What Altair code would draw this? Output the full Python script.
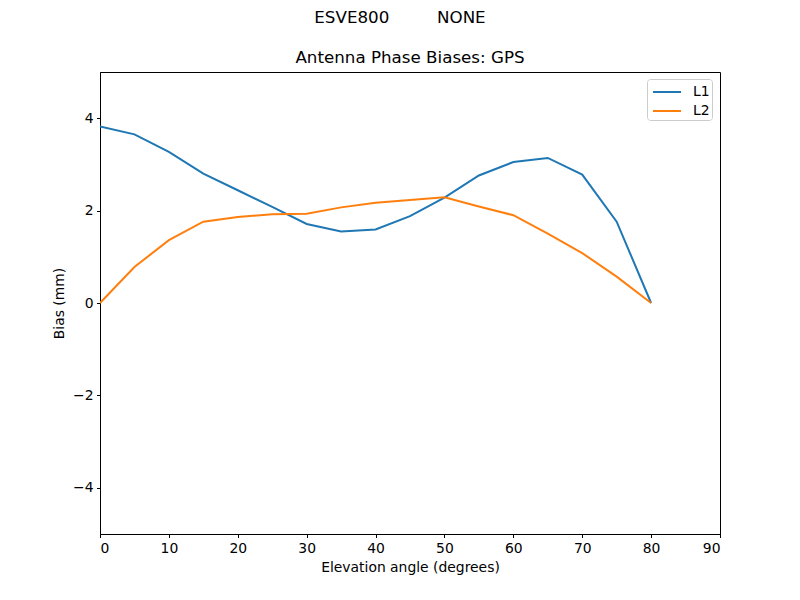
import altair as alt
import pandas as pd

elevation = [0, 5, 10, 15, 20, 25, 30, 35, 40, 45, 50, 55, 60, 65, 70, 75, 80]
l1_bias = [3.82, 3.65, 3.27, 2.80, 2.44, 2.08, 1.71, 1.55, 1.59, 1.88, 2.28, 2.76, 3.05, 3.14, 2.78, 1.76, 0.0]
l2_bias = [0.0, 0.78, 1.36, 1.76, 1.86, 1.92, 1.93, 2.07, 2.17, 2.23, 2.29, 2.09, 1.90, 1.50, 1.08, 0.57, 0.0]
series_names = ["L1", "L2"]
series_colors = ["#1f77b4", "#ff7f0e"]
x_ticks = [0, 10, 20, 30, 40, 50, 60, 70, 80, 90]
y_ticks = [-4, -2, 0, 2, 4]
suptitle = "ESVE800" + "\u00a0" * 9 + "NONE"
title = "Antenna Phase Biases: GPS"

rows = []
for name, vals in zip(series_names, [l1_bias, l2_bias]):
    for e, v in zip(elevation, vals):
        rows.append({"elev": e, "bias": v, "series": name})
df = pd.DataFrame(rows)

FONT = "DejaVu Sans"
FS = 13.9
TFS = 16.7

lines = alt.Chart(df).mark_line(strokeWidth=2, clip=True).encode(
    x=alt.X("elev:Q", scale=alt.Scale(domain=[0, 90], nice=False, zero=False),
            axis=alt.Axis(values=x_ticks, title="Elevation angle (degrees)", grid=False,
                          tickSize=3.5, labelPadding=3.5, titlePadding=6,
                          domainColor="black", tickColor="black", labelColor="black",
                          titleColor="black", labelFontSize=FS, titleFontSize=FS,
                          labelFont=FONT, titleFont=FONT, titleFontWeight="normal",
                          domainWidth=1, tickWidth=1)),
    y=alt.Y("bias:Q", scale=alt.Scale(domain=[-5, 5], nice=False, zero=False),
            axis=alt.Axis(values=y_ticks, title="Bias (mm)", grid=False,
                          tickSize=3.5, labelPadding=3.5, titlePadding=6,
                          domainColor="black", tickColor="black", labelColor="black",
                          titleColor="black", labelFontSize=FS, titleFontSize=FS,
                          labelFont=FONT, titleFont=FONT, titleFontWeight="normal",
                          domainWidth=1, tickWidth=1)),
    color=alt.Color("series:N", scale=alt.Scale(domain=series_names, range=series_colors),
                    legend=alt.Legend(title=None, orient="none", legendX=547, legendY=7,
                                      symbolType="M-0.7,0H2.1", symbolStrokeWidth=2,
                                      symbolSize=400,
                                      labelFont=FONT, labelFontSize=FS, labelColor="black",
                                      strokeColor="#cccccc", cornerRadius=3, padding=2,
                                      fillColor="white", rowPadding=1, labelOffset=22)),
)

titles_df = pd.DataFrame({"t": [suptitle, title], "px": [300, 310], "py": [-54, -14]})
titles = alt.Chart(titles_df).mark_text(
    fontSize=TFS, font=FONT, color="black", align="center", baseline="middle"
).encode(x=alt.X("px:Q", scale=None), y=alt.Y("py:Q", scale=None), text="t:N")

chart = alt.layer(lines, titles).properties(
    width=620, height=462,
    padding={"left": 92, "top": 64, "right": 72, "bottom": 58},
    autosize=alt.AutoSizeParams(type="none"),
).configure(background="white").configure_view(stroke="black", strokeWidth=1)

chart.save("out.html", embed_options={"renderer": "svg", "actions": False})
